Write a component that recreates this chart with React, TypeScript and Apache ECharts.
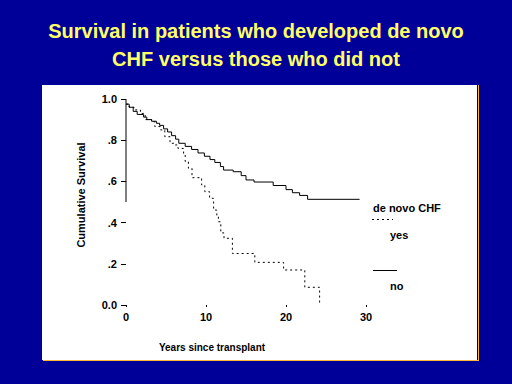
import React, { useEffect, useRef } from "react";
import * as echarts from "echarts";

const titleLines = ["Survival in patients who developed de novo", "CHF versus those who did not"];
const xTicks = [0, 10, 20, 30];
const yTickLabels: Record<string, string> = { "0": "0.0", "0.2": ".2", "0.4": ".4", "0.6": ".6", "0.8": ".8", "1": "1.0" };
const xName = "Years since transplant";
const yName = "Cumulative Survival";
const legendTitle = "de novo CHF";
const groupNames = ["yes", "no"];

// de novo CHF = no (solid)
const noSurvival: [number, number][] = [
  [0, 0.975], [0.4, 0.96], [0.9, 0.94], [1.4, 0.925], [2.2, 0.912], [2.6, 0.9], [3.2, 0.892],
  [3.8, 0.882], [4.2, 0.872], [4.7, 0.855], [5.2, 0.84], [5.7, 0.822], [6.2, 0.805],
  [6.6, 0.785], [7.4, 0.77], [8.2, 0.755], [9.0, 0.738], [9.8, 0.722], [10.5, 0.706],
  [11.1, 0.692], [11.8, 0.672], [12.2, 0.655], [13.4, 0.647], [14.4, 0.628], [15.0, 0.607],
  [16.0, 0.597], [18.4, 0.58], [20.0, 0.56], [20.8, 0.545], [21.7, 0.532], [22.7, 0.513],
  [29.2, 0.513],
];

// de novo CHF = yes (dotted)
const yesSurvival: [number, number][] = [
  [0, 0.975], [0.4, 0.96], [1.0, 0.947], [1.8, 0.93], [2.4, 0.9], [3.2, 0.89], [3.6, 0.866],
  [4.3, 0.85], [4.85, 0.817], [5.5, 0.785], [6.1, 0.777], [6.5, 0.76], [7.2, 0.728],
  [7.4, 0.696], [7.8, 0.664], [8.25, 0.618], [9.45, 0.583], [9.85, 0.55], [10.45, 0.518],
  [10.95, 0.461], [11.35, 0.429], [11.55, 0.404], [11.85, 0.35], [12.25, 0.324],
  [13.3, 0.25], [16.1, 0.207], [19.7, 0.17], [22.35, 0.086], [24.2, 0.01],
];

const yAxisSpan: [number, number][] = [[0, 0.5], [0, 1.0]];

const FONT = "'Liberation Sans', Arial, sans-serif";

export default function App() {
  const ref = useRef<HTMLDivElement>(null);
  useEffect(() => {
    if (!ref.current) return;
    const chart = echarts.init(ref.current, undefined, { renderer: "svg" });
    chart.setOption({
      animation: false,
      backgroundColor: "#000099",
      title: {
        text: titleLines.join("\n"),
        left: "center",
        top: 12,
        textStyle: {
          color: "#FFFF66",
          fontFamily: FONT,
          fontWeight: "bold",
          fontSize: 20,
          lineHeight: 28,
        },
      },
      graphic: [
        { type: "rect", shape: { x: 43, y: 85, width: 436, height: 276 }, style: { fill: "#FFB833" }, z: -10 },
        { type: "rect", shape: { x: 42, y: 85, width: 436, height: 275 }, style: { fill: "#000044" }, z: -9 },
        { type: "rect", shape: { x: 42, y: 85, width: 435, height: 275 }, style: { fill: "#ffffff" }, z: -8 },
        {
          type: "text", x: 81, y: 195, rotation: Math.PI / 2,
          style: { text: yName, fill: "#000", font: `bold 11px ${FONT}`, textAlign: "center", textVerticalAlign: "middle" },
        },
        {
          type: "text", x: 212, y: 347,
          style: { text: xName, fill: "#000", font: `bold 10px ${FONT}`, textAlign: "center", textVerticalAlign: "middle" },
        },
        {
          type: "text", x: 373, y: 208,
          style: { text: legendTitle, fill: "#000", font: `bold 11px ${FONT}`, textAlign: "left", textVerticalAlign: "middle" },
        },
        {
          type: "line", shape: { x1: 372, y1: 219.5, x2: 393, y2: 219.5 },
          style: { stroke: "#000", lineWidth: 1, lineDash: [2, 3] },
        },
        {
          type: "text", x: 390, y: 235,
          style: { text: groupNames[0], fill: "#000", font: `bold 11px ${FONT}`, textAlign: "left", textVerticalAlign: "middle" },
        },
        {
          type: "line", shape: { x1: 373, y1: 270.5, x2: 397, y2: 270.5 },
          style: { stroke: "#000", lineWidth: 1 },
        },
        {
          type: "text", x: 390, y: 286,
          style: { text: groupNames[1], fill: "#000", font: `bold 11px ${FONT}`, textAlign: "left", textVerticalAlign: "middle" },
        },
      ],
      grid: { left: 126, right: 146, top: 99, bottom: 79, containLabel: false },
      xAxis: {
        type: "value",
        min: 0,
        max: 30,
        interval: 10,
        axisLine: { show: false },
        splitLine: { show: false },
        axisTick: { show: true, length: 2, lineStyle: { color: "#000" } },
        axisLabel: {
          margin: 6,
          color: "#000",
          fontFamily: FONT,
          fontWeight: "bold",
          fontSize: 11,
          formatter: (v: number) => (xTicks.includes(v) ? String(v) : ""),
        },
      },
      yAxis: {
        type: "value",
        min: 0,
        max: 1,
        interval: 0.2,
        axisLine: { show: false },
        splitLine: { show: false },
        axisTick: { show: true, length: 5, lineStyle: { color: "#000", width: 1 } },
        axisLabel: {
          margin: 9,
          color: "#000",
          fontFamily: FONT,
          fontWeight: "bold",
          fontSize: 11,
          formatter: (v: number) => yTickLabels[String(Math.round(v * 10) / 10)] ?? "",
        },
      },
      series: [
        {
          name: "axis",
          type: "line",
          data: yAxisSpan,
          symbol: "none",
          silent: true,
          lineStyle: { color: "#000", width: 1 },
        },
        {
          name: groupNames[1],
          type: "line",
          step: "end",
          data: noSurvival,
          symbol: "none",
          lineStyle: { color: "#000", width: 1 },
        },
        {
          name: groupNames[0],
          type: "line",
          step: "end",
          data: yesSurvival,
          symbol: "none",
          lineStyle: { color: "#000", width: 1, type: [2, 3] },
        },
      ],
    });
    return () => chart.dispose();
  }, []);
  return (
    <div
      ref={ref}
      style={{ position: "fixed", left: 0, top: 0, width: 512, height: 384 }}
    />
  );
}
